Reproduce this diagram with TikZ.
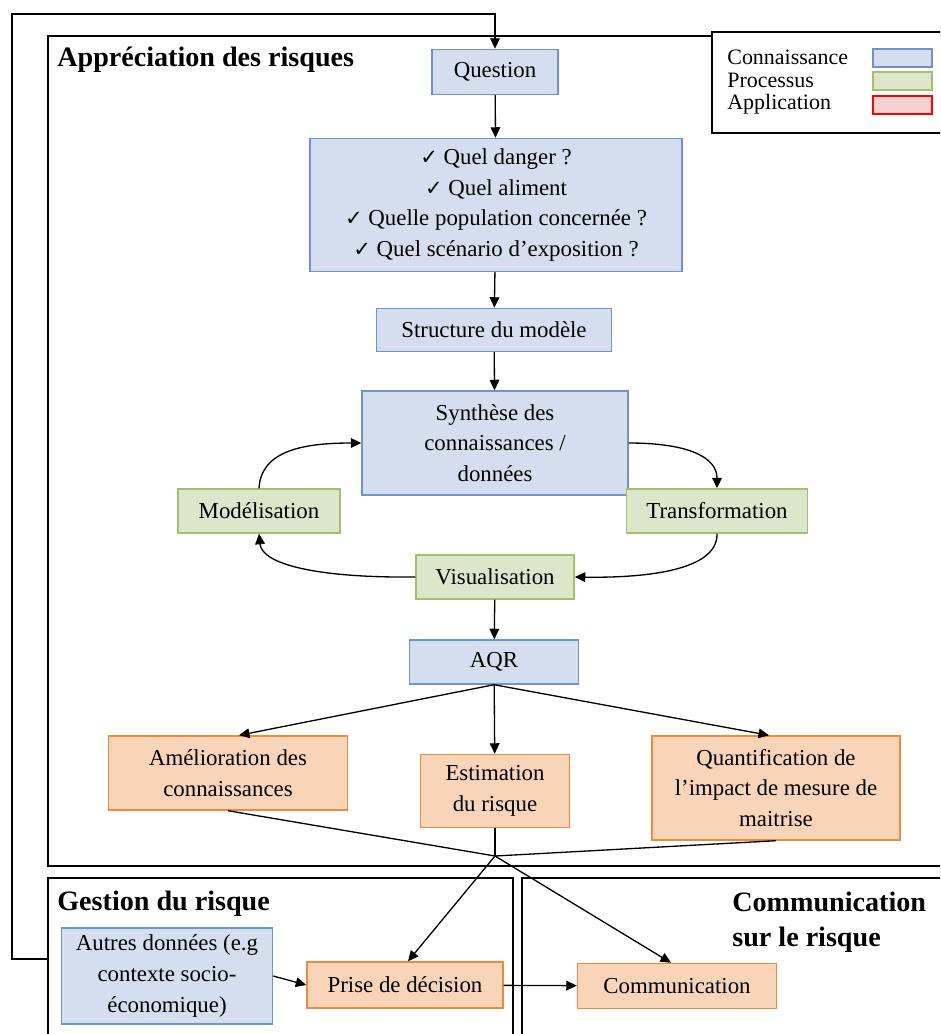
\documentclass[tikz,border=0pt]{standalone}
\usepackage{fontspec}
\setmainfont{Liberation Serif}
\newfontfamily\checkfont{DejaVu Sans}
\usetikzlibrary{arrows.meta,calc}
\definecolor{kfill}{RGB}{212,222,238}
\definecolor{kdraw}{RGB}{112,148,200}
\definecolor{pfill}{RGB}{220,230,203}
\definecolor{pdraw}{RGB}{163,192,106}
\definecolor{afill}{RGB}{248,212,184}
\definecolor{adraw}{RGB}{240,138,58}
\definecolor{rfill}{RGB}{240,210,210}
\newcommand{\pxu}{0.02cm}
\newcommand{\chk}{{\checkfont\fontsize{12}{14}\selectfont ✓}\ }

\tikzset{
  boxtext/.style={font=\fontsize{13}{16.5}\selectfont, align=center, inner sep=0pt, line width=0.8pt},
  boxsize/.style 2 args={minimum width=#1*\pxu, minimum height=#2*\pxu},
  kbox/.style={boxtext, draw=kdraw, fill=kfill},
  pbox/.style={boxtext, draw=pdraw, fill=pfill},
  abox/.style={boxtext, draw=adraw, fill=afill},
  arr/.style={-{Triangle[length=6pt,width=5.5pt]}, line width=0.75pt},
  frame/.style={line width=0.8pt},
  title/.style={font=\fontsize{16}{19}\selectfont\bfseries, anchor=west, inner sep=0pt},
}

\begin{document}
\begin{tikzpicture}[x=0.02cm,y=-0.02cm]

\useasboundingbox (0,0) rectangle (940,1034);
\clip (0,0) rectangle (940,1034);

% cadres
\draw[frame] (48,36) rectangle (960,866);
\draw[frame] (48,878) rectangle (513,1060);
\draw[frame] (522,878) rectangle (960,1060);
\draw[frame,fill=white] (712,32) rectangle (960,133);

\node[title] (tapp) at (57,60) {Appréciation des risques};
\node[title] (tges) at (57,904) {Gestion du risque};
\node[title,align=left] (tcom) at (732,922) {Communication\\[1pt]sur le risque};

% legende
\foreach \y/\txt/\fc/\dc in {58/Connaissance/kfill/kdraw,81/Processus/pfill/pdraw,105/Application/rfill/red}{
  \node[font=\fontsize{12.5}{14}\selectfont,anchor=west,inner sep=0pt] at (727,\y-1) {\txt};
  \filldraw[fill=\fc,draw=\dc,line width=0.8pt] (873,\y-9) rectangle (932,\y+9);
}

% boites
\node[kbox,boxsize={126}{45}] (quest) at (495,72) {Question};
\node[kbox,boxsize={372}{133}] (quels) at (496,205) {\chk Quel danger ?\\[1pt]\chk Quel aliment\\[1pt]\chk Quelle population concernée ?\\[1pt]\chk Quel scénario d’exposition ?};
\node[kbox,boxsize={235}{43}] (struct) at (494,330) {Structure du modèle};
\node[kbox,boxsize={266}{104}] (synth) at (495,443) {Synthèse des\\[1pt]connaissances /\\[1pt]données};
\node[pbox,boxsize={162}{44}] (model) at (259,511) {Modélisation};
\node[pbox,boxsize={181}{44}] (transf) at (717,511) {Transformation};
\node[pbox,boxsize={158}{44}] (visu) at (495,577) {Visualisation};
\node[kbox,boxsize={169}{44}] (aqr) at (494,662) {AQR};
\node[abox,boxsize={239}{74}] (amel) at (228,773) {Amélioration des\\[1pt]connaissances};
\node[abox,boxsize={149}{73}] (estim) at (495,791) {Estimation\\[1pt]du risque};
\node[abox,boxsize={248}{104}] (quant) at (776,788) {Quantification de\\[1pt]l’impact de mesure de\\[1pt]maitrise};
\node[kbox,boxsize={211}{96}] (autres) at (167,976) {Autres données (e.g\\[1pt]contexte socio-\\[1pt]économique)};
\node[abox,boxsize={196}{46}] (prise) at (405,985) {Prise de décision};
\node[abox,boxsize={199}{45}] (comm) at (677,986) {Communication};

\coordinate (retour) at (48,959);
\coordinate (jonction) at (495,856);

% fleches
\draw[arr] (retour) -- (12,959) -- (12,14) -- (quest.north |- 0,14) -- (quest.north);
\draw[arr] (quest) -- (quels);
\draw[arr] (quels) -- (struct);
\draw[arr] (struct) -- (synth);
\draw[arr] (model.north) .. controls (261,452) and (300,443) .. (synth.west);
\draw[arr] (synth.east) .. controls (690,443) and (717,458) .. (transf.north);
\draw[arr] (transf.south) .. controls (718,572) and (640,578) .. (visu.east);
\draw[arr] (visu.west) .. controls (320,578) and (262,565) .. (model.south);
\draw[arr] (visu) -- (aqr);
\draw[arr] (aqr.south) -- ($(amel.north)+(11,0)$);
\draw[arr] (aqr) -- (estim);
\draw[arr] (aqr.south) -- ($(quant.north)+(-7,0)$);
\draw[line width=0.75pt] (amel.south) -- (jonction) -- (quant.south);
\draw[line width=0.75pt] (estim) -- (jonction);
\draw[arr] (jonction) -- ($(prise.north)+(3,0)$);
\draw[arr] (jonction) -- ($(comm.north)+(-6,0)$);
\draw[arr] (autres.east) -- (prise.west);
\draw[arr] (prise) -- (comm);

\end{tikzpicture}
\end{document}
